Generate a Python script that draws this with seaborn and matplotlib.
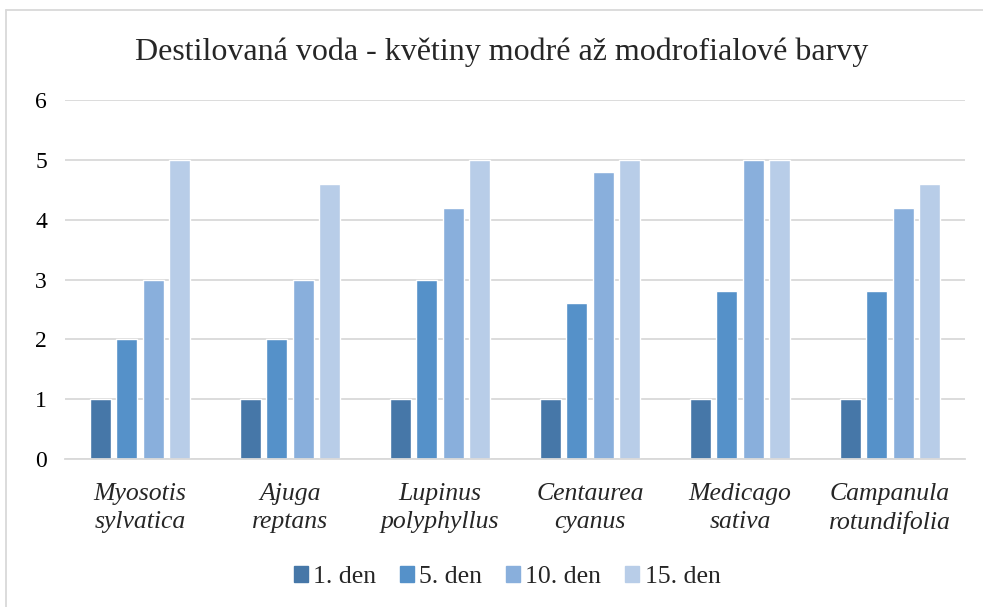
import matplotlib
matplotlib.use("Agg")
import matplotlib.pyplot as plt
import seaborn as sns
import pandas as pd
from matplotlib.patches import Rectangle
from matplotlib.lines import Line2D

categories = ["Myosotis\nsylvatica", "Ajuga\nreptans", "Lupinus\npolyphyllus",
              "Centaurea\ncyanus", "Medicago\nsativa", "Campanula\nrotundifolia"]
series = ["1. den", "5. den", "10. den", "15. den"]
den1 = [1, 1, 1, 1, 1, 1]
den5 = [2, 2, 3, 2.6, 2.8, 2.8]
den10 = [3, 3, 4.2, 4.8, 5, 4.2]
den15 = [5, 4.6, 5, 5, 5, 4.6]
colors = ["#4677A8", "#5591C9", "#89AFDC", "#B8CDE8"]

rows = []
for s, vals in zip(series, [den1, den5, den10, den15]):
    for c, v in zip(categories, vals):
        rows.append({"cat": c, "series": s, "value": v})
df = pd.DataFrame(rows)

sns.set_theme(style="white")
plt.rcParams["font.family"] = ["Liberation Serif", "DejaVu Serif"]

fig = plt.figure(figsize=(9.83, 6.07), dpi=100)
ax = fig.add_axes([65/983, 1-459/607, 900/983, 359/607])

sns.barplot(data=df, x="cat", y="value", hue="series", order=categories,
            hue_order=series, palette=colors, width=0.7, gap=0.2,
            saturation=1, ax=ax, legend=True)

ax.set_ylim(0, 6)
ax.set_yticks(range(7))
ax.set_xlim(-0.5, 5.5)
ax.grid(axis="y", color="#D9D9D9", linewidth=1.3)
ax.set_axisbelow(True)
for sp in ["top", "right", "left"]:
    ax.spines[sp].set_visible(False)
ax.spines["bottom"].set_color("#D9D9D9")
ax.spines["bottom"].set_linewidth(1.3)
ax.tick_params(axis="both", length=0)
ax.tick_params(axis="y", labelsize=17, pad=13, colors="black")
ax.tick_params(axis="x", pad=17)
for lab in ax.get_xticklabels():
    lab.set_fontstyle("italic")
    lab.set_fontsize(18.5)
    lab.set_linespacing(1.38)
ax.set_xlabel("")
ax.set_ylabel("")

ax.get_legend().remove()
handles = [Rectangle((0, 0), 1, 1, color=c) for c in colors]
fig.legend(handles, series, loc="center", bbox_to_anchor=(507/983, 1-577/607),
           ncol=4, frameon=False, fontsize=18.5, handlelength=0.55,
           handleheight=0.55, handletextpad=0.2, columnspacing=0.93)

fig.text(502/983, 1-52/607, "Destilovaná voda - květiny modré až modrofialové barvy",
         ha="center", va="center", fontsize=23)

# outer chart frame
fig.add_artist(Line2D([6/983, 6/983], [0, 1-10/607], transform=fig.transFigure,
                      color="#D9D9D9", linewidth=1.3))
fig.add_artist(Line2D([6/983, 1], [1-10/607, 1-10/607], transform=fig.transFigure,
                      color="#D9D9D9", linewidth=1.3))

fig.savefig("out.png", dpi=100)
